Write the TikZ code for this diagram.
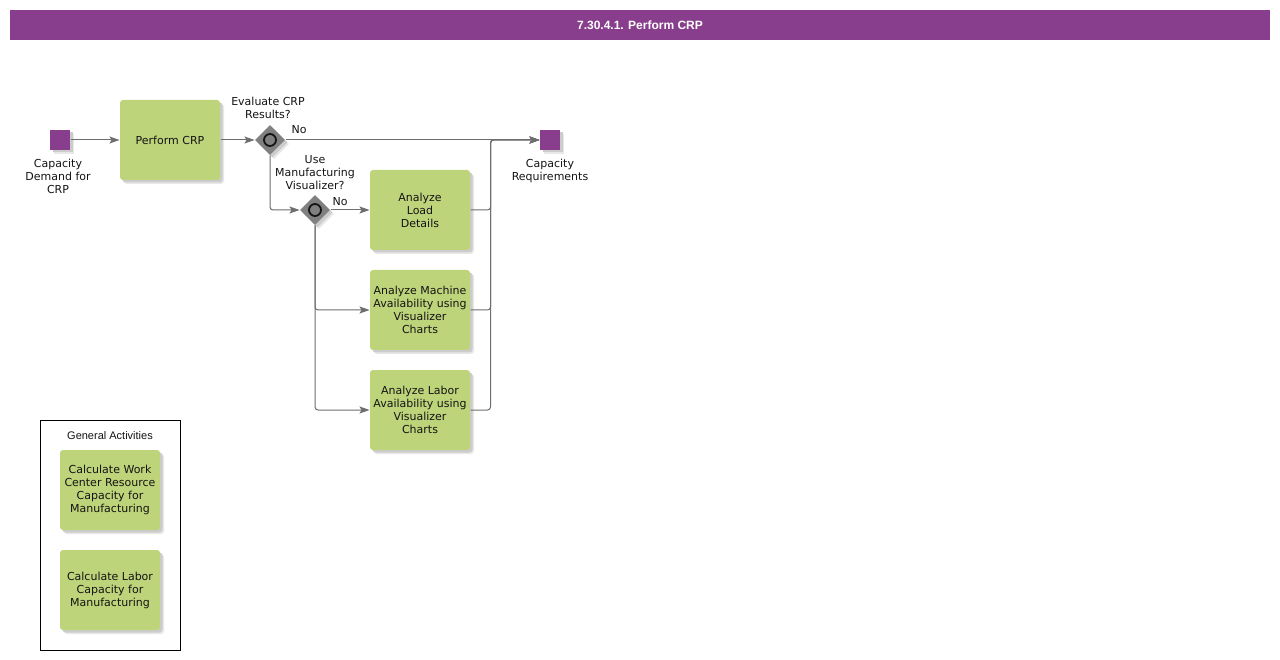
\documentclass[tikz,border=0pt]{standalone}
\usepackage{fontspec}
\setmainfont{DejaVu Sans}
\newfontfamily\headfont{Liberation Sans}
\usetikzlibrary{arrows.meta,positioning,shapes.geometric,shadows,calc}
\definecolor{bar}{RGB}{136,62,140}
\definecolor{task}{RGB}{190,212,122}
\definecolor{gate}{RGB}{128,128,128}
\definecolor{wire}{RGB}{110,110,110}
\definecolor{ink}{RGB}{20,20,20}

\begin{document}
\begin{tikzpicture}[
  x=1pt, y=-1pt,
  font=\fontsize{11}{13}\selectfont,
  line width=1pt,
  >={Stealth[length=10pt,width=7pt,inset=2pt]},
  every node/.style={inner sep=1pt, text=ink},
  shade/.style={drop shadow={shadow xshift=4pt, shadow yshift=-4pt, fill=black!9, opacity=1},
                drop shadow={shadow xshift=2.5pt, shadow yshift=-2.5pt, fill=black!20, opacity=1}},
  act/.style={fill=task, rounded corners=3pt, minimum width=100pt, minimum height=80pt,
              align=center, shade},
  ev/.style={fill=bar, minimum size=20pt, inner sep=0pt, shade},
  gw/.style={diamond, fill=gate, minimum width=30pt, minimum height=30pt, inner sep=0pt, shade},
  ring/.style={circle, draw=ink, line width=1.8pt, minimum size=12pt, inner sep=0pt},
  flow/.style={draw=wire, ->},
  lab/.style={align=center},
  titlebar/.style={fill=bar, minimum width=1260pt, minimum height=30pt,
                   text=white, font=\headfont\bfseries\fontsize{12}{14}\selectfont},
]
\useasboundingbox[fill=white] (0,0) rectangle (1280,660);

% ---------------- title ----------------
\node[titlebar] (title) at (640,25) {7.30.4.1. Perform CRP};

% ---------------- main flow ----------------
\node[ev] (start) at (60,140) {};
\node[lab, anchor=north] (startlab) at (58,158) {Capacity\\Demand for\\CRP};

\node[act] (perform) at (170,140) {Perform CRP};

\node[gw] (gw1) at (270,140) {};
\node[ring] (gw1c) at (gw1) {};
\node[lab, anchor=south] (gw1lab) at (268,120) {Evaluate CRP\\Results?};
\node (no1) at (299,130) {No};

\node[ev] (end) at (550,140) {};
\node[lab, anchor=north] (endlab) at (550,158) {Capacity\\Requirements};

\node[gw] (gw2) at (315,210) {};
\node[ring] (gw2c) at (gw2) {};
\node[lab, anchor=south] (gw2lab) at (315,191) {Use\\Manufacturing\\Visualizer?};
\node (no2) at (340,202) {No};

\node[act] (load)    at (420,210) {Analyze\\Load\\Details};
\node[act] (machine) at (420,310) {Analyze Machine\\Availability using\\Visualizer\\Charts};
\node[act] (labor)   at (420,410) {Analyze Labor\\Availability using\\Visualizer\\Charts};

\draw[flow] (start) -- (perform);
\draw[flow] (perform) -- (gw1);
\draw[flow] (gw1) -- (end);
\draw[flow, rounded corners=3pt] (gw1.south) |- (gw2.west);
\draw[flow] (gw2) -- (load);
\draw[flow, rounded corners=3pt] (gw2.south) |- (machine.west);
\draw[flow, rounded corners=3pt] (gw2.south) |- (labor.west);

% merge back into the end event
\foreach \n in {load, machine, labor} {
  \draw[flow, rounded corners=3pt] (\n.east) -- ++(20,0) |- (end.west);
}

% ---------------- general activities ----------------
\node[draw=black, line width=0.8pt, minimum width=140pt, minimum height=230pt] (general) at (110,535) {};
\node[font=\headfont\fontsize{11}{13}\selectfont] (generallab) at (110,436) {General Activities};
\node[act] (workcap)  at (110,490) {Calculate Work\\Center Resource\\Capacity for\\Manufacturing};
\node[act] (laborcap) at (110,590) {Calculate Labor\\Capacity for\\Manufacturing};

\end{tikzpicture}
\end{document}
